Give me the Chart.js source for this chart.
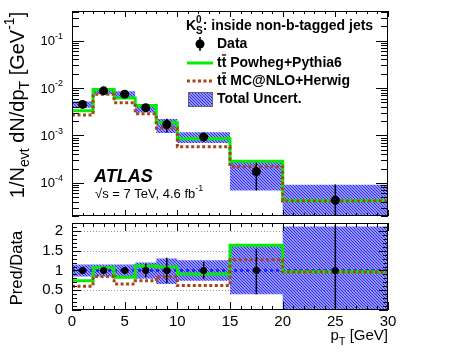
<!DOCTYPE html>
<html lang="en">
<head>
<meta charset="utf-8"/>
<title>K0S pT inside non-b-tagged jets</title>
<script src="https://cdn.jsdelivr.net/npm/chart.js"></script>
<style>
  body { margin: 0; background: #fff; }
  .wrap { position: relative; width: 456px; height: 354px; }
  canvas { position: absolute; left: 0; top: 0; }
</style>
</head>
<body>
<div class="wrap">
<canvas id="topPad" width="456" height="354"></canvas>
<canvas id="ratioPad" width="456" height="354"></canvas>
</div>
<script>
  // bins in pT [GeV]
  const binEdges = [0, 2, 4, 6, 8, 10, 15, 20, 30];
  const binCenters = [1, 3, 5, 7, 9, 12.5, 17.5, 25];
  // 1/Nevt dN/dpT for data
  const dataValues = [4.5e-3, 8.7e-3, 7.4e-3, 3.85e-3, 1.7e-3, 9.3e-4, 1.73e-4, 4.3e-5];
  // relative stat. errors of data (up / down)
  const dataErrUp = [0.08, 0.06, 0.07, 0.17, 0.32, 0.22, 0.55, 1.16];
  const dataErrDown = [0.08, 0.06, 0.07, 0.17, 0.32, 0.22, 0.6, 1.3];
  // total uncertainty band, relative to data
  const uncHigh = [1.15, 1.15, 1.15, 1.2, 1.3, 1.26, 1.64, 2.11];
  const uncLow = [0.85, 0.85, 0.86, 0.79, 0.66, 0.74, 0.4, 0.0];
  // MC / data
  const powhegRatio = [0.74, 1.07, 0.83, 1.11, 1.09, 0.91, 1.64, 0.97];
  const mcatnloRatio = [0.6, 0.85, 0.66, 0.74, 0.84, 0.62, 1.27, 0.96];
  // axis ticks
  const xTicks = [0, 5, 10, 15, 20, 25, 30];
  const logDecades = [-1, -2, -3, -4];
  const ratioTicks = [0, 0.5, 1, 1.5, 2];
  const ratioGrid = [0.5, 1.5, 2];
  const refLine = [1, 1];

  const FONT = '"Liberation Sans", Arial, Helvetica, sans-serif';
  const GREEN = '#00ee00';
  const BROWN = '#a8451a';
  const BLUE = '#1a1aff';

  const steps = vals => binEdges.map((x, i) => ({ x, y: vals[Math.min(i, vals.length - 1)] }));
  const floorLog = v => Math.max(v, 1e-7);

  function hatch() {
    const c = document.createElement('canvas');
    c.width = 3; c.height = 3;
    const g = c.getContext('2d');
    g.fillStyle = 'rgba(160,160,255,0.6)';
    g.fillRect(0, 0, 3, 3);
    g.strokeStyle = 'rgba(30,30,240,0.95)';
    g.lineWidth = 1.15;
    g.beginPath();
    g.moveTo(-1, -1); g.lineTo(4, 4);
    g.moveTo(-1, 2); g.lineTo(1, 4);
    g.moveTo(2, -1); g.lineTo(4, 1);
    g.stroke();
    return g.createPattern(c, 'repeat');
  }
  const pattern = hatch();

  // text with sub/superscripts: parts = [[text, kind]], kind n|sub|sup|bar|stack
  function rich(ctx, parts, x, y, size, align, weight) {
    weight = weight || 'normal';
    const small = Math.round(size * 0.7);
    const setFont = k => { ctx.font = `${weight} ${(k === 'n' || k === 'bar') ? size : small}px ${FONT}`; };
    const widthOf = ([t, k]) => {
      setFont(k);
      if (k === 'stack') return Math.max(...t.split('|').map(s => ctx.measureText(s).width));
      return ctx.measureText(t).width;
    };
    const total = parts.reduce((s, p) => s + widthOf(p), 0);
    let cx = align === 'right' ? x - total : align === 'center' ? x - total / 2 : x;
    ctx.textAlign = 'left';
    ctx.textBaseline = 'middle';
    for (const p of parts) {
      const [t, k] = p;
      const w = widthOf(p);
      setFont(k);
      if (k === 'sub') ctx.fillText(t, cx, y + size * 0.38);
      else if (k === 'sup') ctx.fillText(t, cx, y - size * 0.4);
      else if (k === 'stack') {
        const [lo, hi] = t.split('|');
        ctx.fillText(lo, cx, y + size * 0.38);
        ctx.fillText(hi, cx, y - size * 0.42);
      } else {
        ctx.fillText(t, cx, y);
        if (k === 'bar') {
          ctx.fillRect(cx + w * 0.05, y - size * 0.62, w * 0.9, 1.3);
        }
      }
      cx += w;
    }
  }

  function line(ctx, x1, y1, x2, y2) {
    ctx.beginPath(); ctx.moveTo(x1, y1); ctx.lineTo(x2, y2); ctx.stroke();
  }

  function xTickMarks(ctx, x, area, major, minor) {
    for (let v = 0; v <= 30; v++) {
      const px = Math.round(x.getPixelForValue(v)) + 0.5;
      const len = v % 5 === 0 ? major : minor;
      line(ctx, px, area.bottom, px, area.bottom - len);
      line(ctx, px, area.top, px, area.top + len);
    }
  }

  const floorLogIf = (scale, v) => scale.type === 'logarithmic' ? floorLog(v) : v;
  function errorBars(chart, up, down) {
    const { ctx, chartArea: a, scales: { x, y } } = chart;
    ctx.save();
    ctx.beginPath(); ctx.rect(a.left, a.top, a.right - a.left, a.bottom - a.top); ctx.clip();
    ctx.strokeStyle = '#000';
    ctx.lineWidth = 1.5;
    binCenters.forEach((c, i) => {
      const px = x.getPixelForValue(c);
      line(ctx, px, y.getPixelForValue(floorLogIf(y, up[i])), px, y.getPixelForValue(floorLogIf(y, down[i])));
    });
    ctx.restore();
  }

  // ---------- upper pad ----------
  const topDecor = {
    id: 'topDecor',
    beforeDatasetDraw(chart, args) {
      if (args.index !== 4) return;
      errorBars(chart,
        dataValues.map((v, i) => v * (1 + dataErrUp[i])),
        dataValues.map((v, i) => v * (1 - dataErrDown[i])));
    },
    afterDraw(chart) {
      const { ctx, chartArea: a, scales: { x, y } } = chart;
      ctx.save();
      ctx.strokeStyle = '#000';
      ctx.fillStyle = '#000';
      ctx.lineWidth = 1;
      ctx.strokeRect(a.left + 0.5, a.top + 0.5, a.right - a.left - 1, a.bottom - a.top - 1);
      xTickMarks(ctx, x, a, 6, 3);
      for (let d = -5; d <= 0; d++) {
        for (let m = 1; m <= 9; m++) {
          const v = m * Math.pow(10, d);
          if (v < y.min || v > y.max) continue;
          const py = Math.round(y.getPixelForValue(v)) + 0.5;
          const len = m === 1 ? 12 : 7;
          line(ctx, a.left, py, a.left + len, py);
          line(ctx, a.right, py, a.right - len, py);
        }
      }
      logDecades.forEach(d => {
        rich(ctx, [['10', 'n'], [String(d), 'sup']], 63, y.getPixelForValue(Math.pow(10, d)) + 1, 13, 'right');
      });
      // y title
      ctx.save();
      ctx.translate(18, 105);
      ctx.rotate(-Math.PI / 2);
      rich(ctx, [['1/N', 'n'], ['evt', 'sub'], [' dN/dp', 'n'], ['T', 'sub'], [' [GeV', 'n'], ['-1', 'sup'], [']', 'n']],
        0, 0, 20, 'center');
      ctx.restore();

      // legend
      const lx = 187, tx = 217;
      rich(ctx, [['K', 'n'], ['S|0', 'stack'], [': inside non-b-tagged jets', 'n']], 186, 26, 14, 'left', 'bold');
      ctx.beginPath(); ctx.arc(200, 44, 4.5, 0, Math.PI * 2); ctx.fill();
      ctx.lineWidth = 1.5;
      line(ctx, 200, 37, 200, 51);
      rich(ctx, [['Data', 'n']], tx, 44, 14, 'left', 'bold');
      ctx.strokeStyle = GREEN; ctx.lineWidth = 3;
      line(ctx, lx, 63, lx + 26, 63);
      rich(ctx, [['t', 'n'], ['t', 'bar'], [' Powheg+Pythia6', 'n']], tx, 63, 14, 'left', 'bold');
      ctx.strokeStyle = BROWN; ctx.setLineDash([3, 2.5]);
      line(ctx, lx, 81, lx + 26, 81);
      ctx.setLineDash([]);
      rich(ctx, [['t', 'n'], ['t', 'bar'], [' MC@NLO+Herwig', 'n']], tx, 81, 14, 'left', 'bold');
      ctx.fillStyle = pattern;
      ctx.fillRect(lx + 1, 92, 24, 15);
      ctx.strokeStyle = '#666'; ctx.lineWidth = 1;
      ctx.strokeRect(lx + 1.5, 92.5, 24, 14);
      ctx.fillStyle = '#000';
      rich(ctx, [['Total Uncert.', 'n']], tx, 99, 14, 'left', 'bold');

      // ATLAS label
      ctx.font = `italic bold 18px ${FONT}`;
      ctx.textAlign = 'left'; ctx.textBaseline = 'middle';
      ctx.fillText('ATLAS', 94, 177);
      rich(ctx, [['\u221As = 7 TeV, 4.6 fb', 'n'], ['-1', 'sup']], 95, 194, 13, 'left');
      ctx.restore();
    }
  };

  new Chart(document.getElementById('topPad'), {
    type: 'line',
    data: {
      datasets: [
        { data: steps(dataValues.map((v, i) => v * uncHigh[i])), stepped: true, borderColor: 'transparent',
          pointRadius: 0, fill: false, order: 5 },
        { data: steps(dataValues.map((v, i) => floorLog(v * uncLow[i]))), stepped: true, borderColor: 'transparent',
          pointRadius: 0, fill: '-1', backgroundColor: pattern, order: 4 },
        { data: steps(dataValues.map((v, i) => v * powhegRatio[i])), stepped: true, borderColor: GREEN,
          borderWidth: 3, pointRadius: 0, fill: false, order: 3 },
        { data: steps(dataValues.map((v, i) => v * mcatnloRatio[i])), stepped: true, borderColor: BROWN,
          borderWidth: 3, borderDash: [3, 2.5], pointRadius: 0, fill: false, order: 2 },
        { data: binCenters.map((x, i) => ({ x, y: dataValues[i] })), showLine: false, pointRadius: 4.5,
          pointBackgroundColor: '#000', pointBorderColor: '#000', pointBorderWidth: 0, order: 1 }
      ]
    },
    options: {
      responsive: false,
      animation: false,
      layout: { padding: { left: 72, right: 68, top: 11, bottom: 138 } },
      scales: {
        x: { type: 'linear', min: 0, max: 30, display: false },
        y: { type: 'logarithmic', min: 2e-5, max: 0.42, display: false }
      },
      plugins: { legend: { display: false }, tooltip: { enabled: false } }
    },
    plugins: [topDecor]
  });

  // ---------- ratio pad ----------
  const ratioDecor = {
    id: 'ratioDecor',
    beforeDatasetsDraw(chart) {
      const { ctx, chartArea: a, scales: { y } } = chart;
      ctx.save();
      ctx.strokeStyle = '#999';
      ctx.lineWidth = 1;
      ctx.setLineDash([1, 2]);
      ratioGrid.forEach(v => {
        const py = Math.round(y.getPixelForValue(v)) + 0.5;
        line(ctx, a.left, py, a.right, py);
      });
      ctx.restore();
    },
    beforeDatasetDraw(chart, args) {
      if (args.index !== 5) return;
      errorBars(chart, dataErrUp.map(e => 1 + e), dataErrDown.map(e => 1 - e));
    },
    afterDraw(chart) {
      const { ctx, chartArea: a, scales: { x, y } } = chart;
      ctx.save();
      ctx.strokeStyle = '#000';
      ctx.fillStyle = '#000';
      ctx.lineWidth = 1;
      ctx.strokeRect(a.left + 0.5, a.top + 0.5, a.right - a.left - 1, a.bottom - a.top - 1);
      xTickMarks(ctx, x, a, 8, 4);
      for (let i = 0; i <= 22; i++) {
        const py = Math.round(y.getPixelForValue(i / 10)) + 0.5;
        const len = i % 5 === 0 ? 9 : 5;
        line(ctx, a.left, py, a.left + len, py);
        line(ctx, a.right, py, a.right - len, py);
      }
      ratioTicks.forEach(v => rich(ctx, [[String(v), 'n']], 63, y.getPixelForValue(v), 15, 'right'));
      xTicks.forEach(v => rich(ctx, [[String(v), 'n']], x.getPixelForValue(v), a.bottom + 12, 15, 'center'));
      rich(ctx, [['p', 'n'], ['T', 'sub'], [' [GeV]', 'n']], a.right, 336, 15, 'right');
      ctx.save();
      ctx.translate(17, 268);
      ctx.rotate(-Math.PI / 2);
      rich(ctx, [['Pred/Data', 'n']], 0, 0, 16.5, 'center');
      ctx.restore();
      ctx.restore();
    }
  };

  new Chart(document.getElementById('ratioPad'), {
    type: 'line',
    data: {
      datasets: [
        { data: steps(uncHigh), stepped: true, borderColor: 'transparent', pointRadius: 0, fill: false, order: 6 },
        { data: steps(uncLow), stepped: true, borderColor: 'transparent', pointRadius: 0, fill: '-1',
          backgroundColor: pattern, order: 5 },
        { data: [{ x: 0, y: refLine[0] }, { x: 30, y: refLine[1] }], borderColor: BLUE, borderWidth: 2.5,
          borderDash: [3, 3], pointRadius: 0, fill: false, order: 4 },
        { data: steps(powhegRatio), stepped: true, borderColor: GREEN, borderWidth: 3, pointRadius: 0, fill: false,
          order: 3 },
        { data: steps(mcatnloRatio), stepped: true, borderColor: BROWN, borderWidth: 3, borderDash: [3, 2.5],
          pointRadius: 0, fill: false, order: 2 },
        { data: binCenters.map(x => ({ x, y: 1 })), showLine: false, pointRadius: 3.5,
          pointBackgroundColor: '#000', pointBorderColor: '#000', pointBorderWidth: 0, order: 1 }
      ]
    },
    options: {
      responsive: false,
      animation: false,
      layout: { padding: { left: 72, right: 68, top: 223, bottom: 44 } },
      scales: {
        x: { type: 'linear', min: 0, max: 30, display: false },
        y: { type: 'linear', min: 0, max: 2.2, display: false }
      },
      plugins: { legend: { display: false }, tooltip: { enabled: false } }
    },
    plugins: [ratioDecor]
  });
</script>
</body>
</html>
